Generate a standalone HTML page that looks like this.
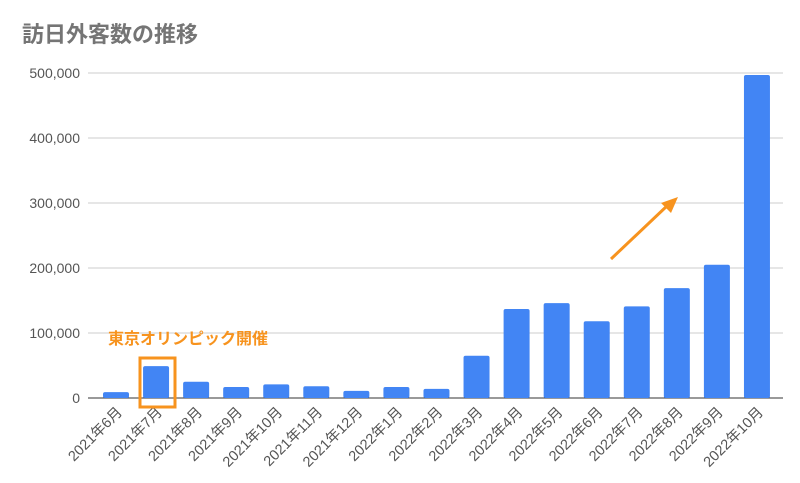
<!DOCTYPE html>
<html><head><meta charset="utf-8"><style>
body{margin:0;background:#fff;}
svg{display:block;font-family:"Liberation Sans","Noto Sans CJK JP",sans-serif;}
</style></head><body>
<svg id="c" width="800" height="483" viewBox="0 0 800 483">
<text x="22" y="42" font-size="22" font-weight="bold" fill="#757575">訪日外客数の推移</text>
<g id="grid"></g><g id="bars"></g><g id="xl"></g>
<text x="108" y="344" font-size="16" font-weight="bold" fill="#f7931e">東京オリンピック開催</text>
<rect x="140" y="358" width="35" height="49" fill="none" stroke="#f7931e" stroke-width="3"/>
<line x1="611" y1="259" x2="668" y2="205" stroke="#f7931e" stroke-width="3"/>
<polygon points="678,197 661,203 671,213" fill="#f7931e"/>
</svg>
<script>
const categories=["2021年6月","2021年7月","2021年8月","2021年9月","2021年10月","2021年11月","2021年12月","2022年1月","2022年2月","2022年3月","2022年4月","2022年5月","2022年6月","2022年7月","2022年8月","2022年9月","2022年10月"];
const values=[9000,49000,25000,17000,21000,18000,11000,17000,14000,65000,137000,146000,118000,141000,169000,205000,497000];
const ticks=[0,100000,200000,300000,400000,500000];
const tickLabels=["0","100,000","200,000","300,000","400,000","500,000"];
const NS="http://www.w3.org/2000/svg";
const x0=88,x1=783,y0=398,y1=73,maxV=500000;
const y=v=>y0-(v/maxV)*(y0-y1);
const step=40.06;
const xc=i=>116+step*i;
function mk(t,a,p){const e=document.createElementNS(NS,t);for(const k in a)e.setAttribute(k,a[k]);p.appendChild(e);return e;}
const g=document.getElementById('grid');
ticks.forEach((t,i)=>{
 const l=mk('line',{x1:x0,x2:x1,y1:y(t),y2:y(t),stroke:i==0?'#333':'#ccc','stroke-width':1},g);
 
 
 const tx=mk('text',{x:80,y:y(t)+5,'font-size':14,fill:'#555','text-anchor':'end'},g);
 tx.textContent=tickLabels[i];
 
 
});
const b=document.getElementById('bars'),xl=document.getElementById('xl');
values.forEach((v,i)=>{
 const r=mk('rect',{x:xc(i)-13,y:y(v),width:26,height:y0-y(v),fill:'#4285f4',rx:2},b);
 
 
 const t=mk('text',{x:xc(i)+7,y:413,'font-size':14.5,fill:'#555','text-anchor':'end',transform:`rotate(-45 ${xc(i)+7} 413)`},xl);
 t.textContent=categories[i];
 
 
});
</script>
</body></html>
